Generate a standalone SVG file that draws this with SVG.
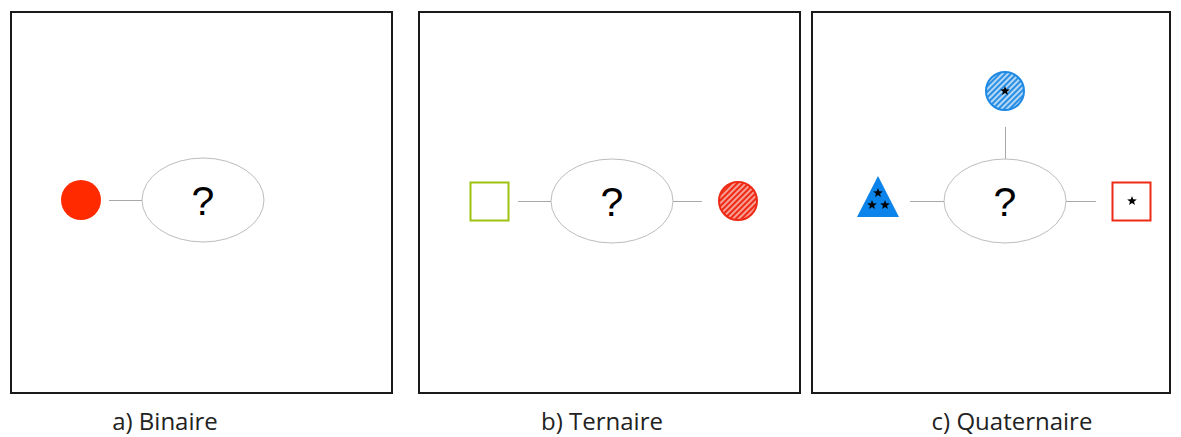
<svg xmlns="http://www.w3.org/2000/svg" width="1181" height="437" viewBox="0 0 1181 437">
<style>
.frame{fill:#fff;stroke:#1a1a1a;stroke-width:2}
.ell{fill:#fff;stroke:#bdbdbd;stroke-width:1}
.q{font-family:"Liberation Sans",Arial,sans-serif;font-size:41px;fill:#000;text-anchor:middle}
.lbl{font-family:"Open Sans","Liberation Sans",sans-serif;font-size:24px;fill:#222;text-anchor:middle}
.conn line{stroke:#a8a8a8;stroke-width:1}
.star{fill:#000}
</style>
<defs>
<pattern id="hatchRed" patternUnits="userSpaceOnUse" width="4" height="4" patternTransform="rotate(45)">
<rect width="4" height="4" fill="#ee2a14"/>
<line x1="1" y1="0" x2="1" y2="4" stroke="#fff" stroke-width="1.1"/>
</pattern>
<pattern id="hatchBlue" patternUnits="userSpaceOnUse" width="4" height="4" patternTransform="rotate(45)">
<rect width="4" height="4" fill="#2a8fe3"/>
<line x1="1" y1="0" x2="1" y2="4" stroke="#fff" stroke-width="1.3"/>
</pattern>
<polygon id="star" points="0,-5 1.2,-1.7 4.8,-1.6 2,0.7 3,4.1 0,2.1 -3,4.1 -2,0.7 -4.8,-1.6 -1.2,-1.7" class="star"/>
</defs>
<rect width="1181" height="437" fill="#fff"/>

<g id="panel-a">
<rect class="frame" x="11" y="12" width="381" height="381"/>
<text class="lbl" x="165" y="430">a) Binaire</text>
</g>
<g id="panel-b">
<rect class="frame" x="419" y="12" width="381" height="381"/>
<text class="lbl" x="602" y="430">b) Ternaire</text>
</g>
<g id="panel-c">
<rect class="frame" x="812" y="12" width="358" height="381"/>
<text class="lbl" x="1012" y="430">c) Quaternaire</text>
</g>

<g id="connectors" class="conn">
<line x1="109" y1="200.5" x2="143" y2="200.5"/>
<line x1="518" y1="201.5" x2="551" y2="201.5"/>
<line x1="673" y1="201.5" x2="702" y2="201.5"/>
<line x1="910" y1="201.5" x2="944" y2="201.5"/>
<line x1="1066" y1="201.5" x2="1096" y2="201.5"/>
<line x1="1005.5" y1="127" x2="1005.5" y2="159"/>
</g>

<g id="a-circle"><circle cx="81" cy="200" r="20" fill="#ff2a00"/></g>
<g id="a-center"><ellipse class="ell" cx="203" cy="200" rx="61" ry="42"/><text class="q" x="203" y="215">?</text></g>

<g id="b-square"><rect x="470.5" y="182.5" width="38" height="38" fill="#fff" stroke="#9dc210" stroke-width="2"/></g>
<g id="b-center"><ellipse class="ell" cx="612" cy="201" rx="61" ry="42"/><text class="q" x="612" y="216">?</text></g>
<g id="b-circle"><circle cx="738" cy="201" r="19" fill="url(#hatchRed)" stroke="#ee2a14" stroke-width="2"/></g>

<g id="c-circle"><circle cx="1005" cy="91" r="19" fill="url(#hatchBlue)" stroke="#1e88e5" stroke-width="2"/><use href="#star" x="1005" y="91"/></g>
<g id="c-triangle"><polygon points="878,176 899,217 857,217" fill="#0a84ea"/><use href="#star" x="878" y="193"/><use href="#star" x="872" y="205"/><use href="#star" x="885" y="205"/></g>
<g id="c-center"><ellipse class="ell" cx="1005" cy="201" rx="61" ry="42"/><text class="q" x="1005" y="216">?</text></g>
<g id="c-square"><rect x="1112.5" y="182.5" width="38" height="38" fill="#fff" stroke="#ee2a14" stroke-width="2"/><use href="#star" x="1132" y="201"/></g>
</svg>
